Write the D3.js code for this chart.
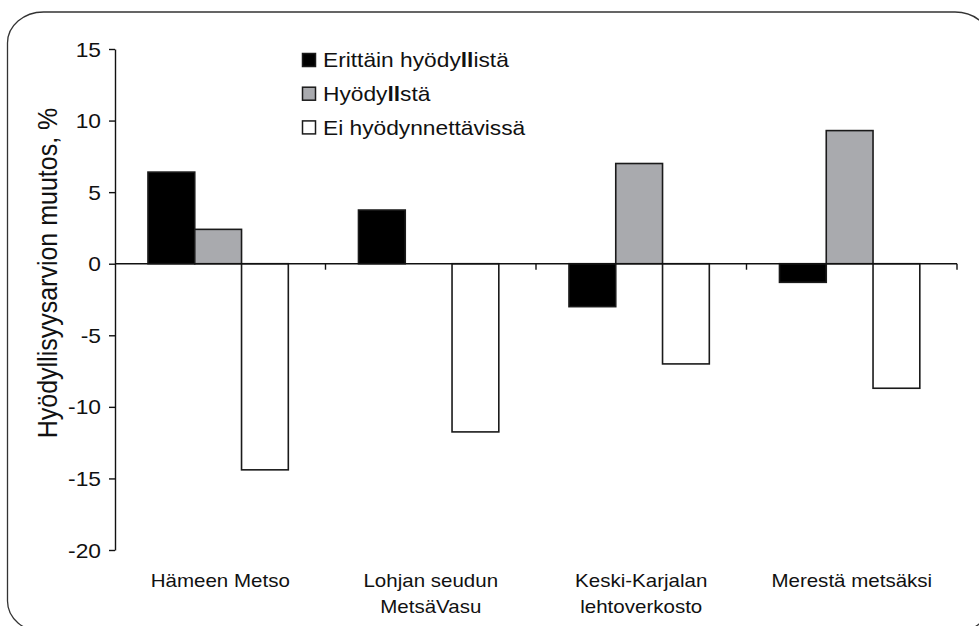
<!DOCTYPE html>
<html><head><meta charset="utf-8">
<script src="https://cdn.jsdelivr.net/npm/d3@7"></script>
<style>html,body{margin:0;padding:0;background:#fff;} svg{display:block;}</style>
</head><body>
<svg id="chart" width="979" height="626"></svg>
<script>
// ---- data ----
const categories = ["Hämeen Metso", "Lohjan seudun MetsäVasu", "Keski-Karjalan lehtoverkosto", "Merestä metsäksi"];
const categoryLines = [["Hämeen Metso"], ["Lohjan seudun", "MetsäVasu"], ["Keski-Karjalan", "lehtoverkosto"], ["Merestä metsäksi"]];
const seriesNames = ["Erittäin hyödyllistä", "Hyödyllstä", "Ei hyödynnettävissä"];
const erittainHyodyllista = [6.4, 3.75, -3.0, -1.3];
const hyodyllsta = [2.4, 0, 7.0, 9.3];
const eiHyodynnettavissa = [-14.4, -11.75, -7.0, -8.7];
const yTicks = [15, 10, 5, 0, -5, -10, -15, -20];
const yTitle = "Hyödyllisyysarvion muutos, %";

const seriesValues = [erittainHyodyllista, hyodyllsta, eiHyodynnettavissa];
const seriesFill = ["#000000", "#a9aaae", "#ffffff"];

// ---- layout ----
const SX = 1.14; // horizontal text stretch seen in the reference
const SXL = 1.11;
const font = "'Liberation Sans', Arial, sans-serif";
const svg = d3.select("#chart");

svg.append("rect")
  .attr("x", 7.5).attr("y", 12).attr("width", 983.5).attr("height", 620)
  .attr("rx", 36).attr("ry", 31)
  .attr("fill", "#fff").attr("stroke", "#333").attr("stroke-width", 1.3);

const y = d3.scaleLinear().domain([-20, 15]).range([550, 49]);
const xCat = d3.scaleBand().domain(categories).range([115, 957]).padding(0);
const xGroup = d3.scaleBand().domain(categories).range([115, 957])
  .paddingInner(1 / 3).paddingOuter(1 / 6).align(0.47);
const xSeries = d3.scaleBand().domain(seriesNames).range([0, xGroup.bandwidth()]);

// bars
const rows = [];
categories.forEach((c, i) => seriesNames.forEach((s, j) => rows.push({c, s, j, v: seriesValues[j][i]})));
svg.append("g").selectAll("rect").data(rows).join("rect")
  .attr("x", d => xGroup(d.c) + xSeries(d.s))
  .attr("width", xSeries.bandwidth())
  .attr("y", d => y(Math.max(0, d.v)))
  .attr("height", d => Math.abs(y(d.v) - y(0)))
  .attr("fill", d => seriesFill[d.j])
  .attr("stroke", "#1a1a1a").attr("stroke-width", 1.6);

// y axis
const yAxis = svg.append("g").attr("transform", "translate(115,0)")
  .call(d3.axisLeft(y).tickValues(yTicks).tickSize(6).tickSizeOuter(0).tickFormat(d3.format("d")));
yAxis.select(".domain").attr("stroke", "#111").attr("stroke-width", 1.4);
yAxis.selectAll(".tick line").attr("stroke", "#111").attr("stroke-width", 1.4);
yAxis.selectAll(".tick text")
  .attr("x", 0).attr("dy", null)
  .attr("transform", `translate(-14,7) scale(${SX},1)`)
  .attr("font-family", font).attr("font-size", 20).attr("fill", "#111")
  .text(d => d < 0 ? "-" + Math.abs(d) : String(d));

// category axis (zero line + boundary ticks)
const xg = svg.append("g");
xg.append("line").attr("x1", xCat.range()[0]).attr("x2", xCat.range()[1])
  .attr("y1", y(0)).attr("y2", y(0)).attr("stroke", "#111").attr("stroke-width", 1.4);
const bounds = categories.map(c => xCat(c)).slice(1).concat([xCat.range()[1]]);
xg.selectAll("line.tk").data(bounds).join("line").attr("class", "tk")
  .attr("x1", d => d).attr("x2", d => d).attr("y1", y(0)).attr("y2", y(0) + 6)
  .attr("stroke", "#111").attr("stroke-width", 1.4);

// category labels
categories.forEach((c, i) => {
  const cx = xCat(c) + xCat.bandwidth() / 2;
  categoryLines[i].forEach((line, k) => {
    svg.append("text")
      .attr("transform", `translate(${cx},${587 + k * 26}) scale(${SX},1)`)
      .attr("text-anchor", "middle").attr("font-family", font).attr("font-size", 18).attr("fill", "#111")
      .text(line);
  });
});

// y title
svg.append("text")
  .attr("transform", `translate(57,273) scale(${SX},1) rotate(-90)`)
  .attr("text-anchor", "middle").attr("font-family", font).attr("font-size", 25).attr("fill", "#111")
  .text(yTitle);

// legend
const lg = svg.append("g");
seriesNames.forEach((s, j) => {
  const cy = 60 + j * 33.7;
  lg.append("rect").attr("x", 302.5).attr("y", cy - 6.5).attr("width", 13).attr("height", 13)
    .attr("fill", seriesFill[j]).attr("stroke", "#1a1a1a").attr("stroke-width", 1.5);
  const t = lg.append("text")
    .attr("transform", `translate(323,${cy + 7.3}) scale(${SXL},1)`)
    .attr("font-family", font).attr("font-size", 20.5).attr("fill", "#111");
  const parts = s.split("ll");
  parts.forEach((p, k) => {
    t.append("tspan").text(p);
    if (k < parts.length - 1) t.append("tspan").attr("font-weight", "bold").text("ll");
  });
});
</script>
</body></html>
